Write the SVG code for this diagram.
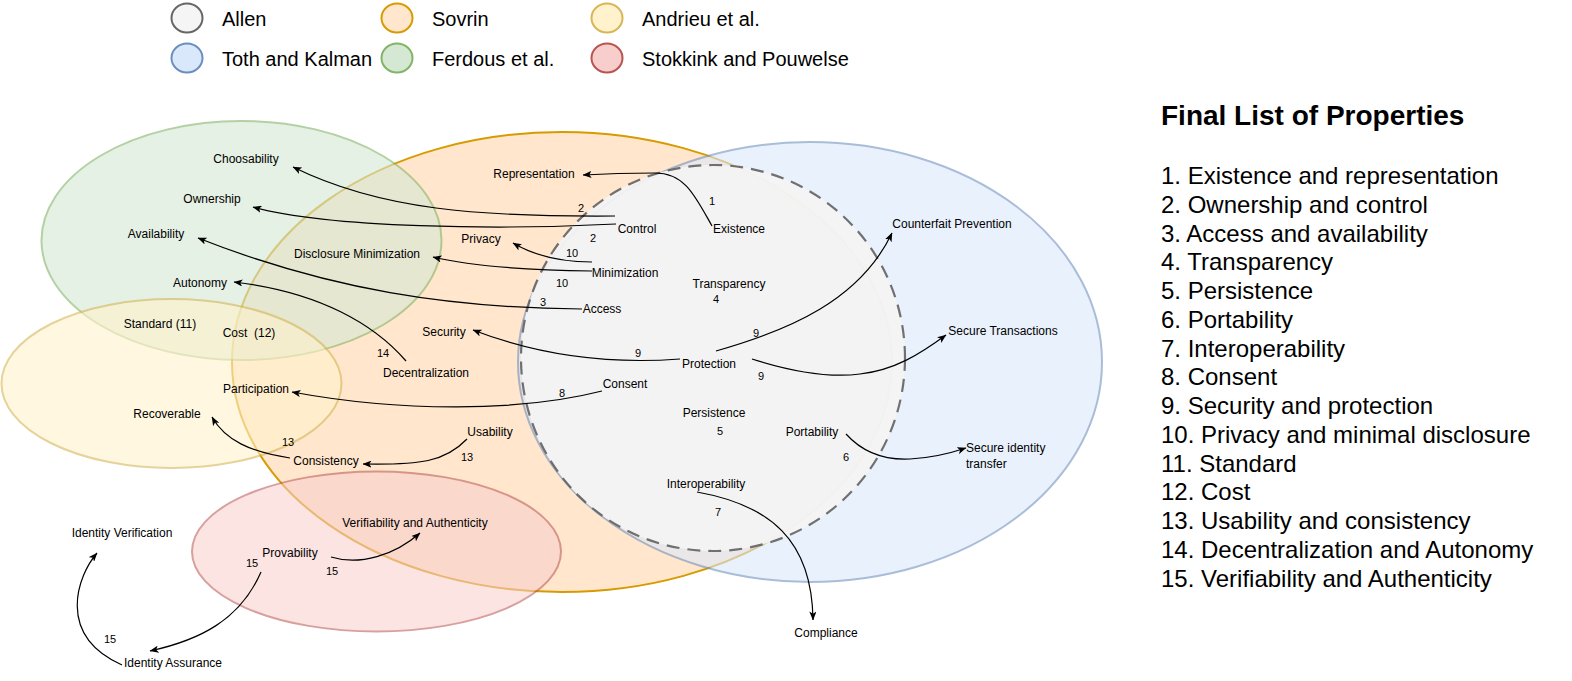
<svg xmlns="http://www.w3.org/2000/svg" width="1572" height="681" viewBox="0 0 1572 681">
<defs>
<marker id="arr" viewBox="0 0 10 8" markerWidth="9" markerHeight="7.2" refX="9.5" refY="4" orient="auto" markerUnits="userSpaceOnUse">
<path d="M0,0 L10,4 L0,8 L2.5,4 Z" fill="#000"/>
</marker>
<style>
text{font-family:"Liberation Sans",Arial,Helvetica,sans-serif;fill:#000}
.lg{font-size:20px}
.lb{font-size:12px;text-anchor:middle;white-space:pre}
.lbs{font-size:12px}
.num{font-size:11px;text-anchor:middle}
.ttl{font-size:28px;font-weight:bold}
.it{font-size:24px}
.e{fill:none;stroke:#000;stroke-width:1.2;marker-end:url(#arr)}
.allen{fill:#f5f5f5;stroke:#666666}
.toth{fill:#dae8fc;stroke:#6c8ebf}
.sov{fill:#ffe6cc;stroke:#d79b00}
.fer{fill:#d5e8d4;stroke:#82b366}
.and{fill:#fff2cc;stroke:#d6b656}
.sto{fill:#f8cecc;stroke:#b85450}
.set{stroke-width:2}
</style>
</defs>
<rect width="1572" height="681" fill="#fff"/>

<g id="legend">
<g id="legend-allen"><ellipse class="allen" cx="187" cy="18" rx="15.5" ry="14.5" stroke-width="2"/><text class="lg" x="222" y="25.5">Allen</text></g>
<g id="legend-toth"><ellipse class="toth" cx="187" cy="58" rx="15.5" ry="14.5" stroke-width="2"/><text class="lg" x="222" y="65.5">Toth and Kalman</text></g>
<g id="legend-sovrin"><ellipse class="sov" cx="397" cy="18" rx="15.5" ry="14.5" stroke-width="2"/><text class="lg" x="432" y="25.5">Sovrin</text></g>
<g id="legend-ferdous"><ellipse class="fer" cx="397" cy="58" rx="15.5" ry="14.5" stroke-width="2"/><text class="lg" x="432" y="65.5">Ferdous et al.</text></g>
<g id="legend-andrieu"><ellipse class="and" cx="607" cy="18" rx="15.5" ry="14.5" stroke-width="2"/><text class="lg" x="642" y="25.5">Andrieu et al.</text></g>
<g id="legend-stokkink"><ellipse class="sto" cx="607" cy="58" rx="15.5" ry="14.5" stroke-width="2"/><text class="lg" x="642" y="65.5">Stokkink and Pouwelse</text></g>
</g>

<g id="set-sovrin"><ellipse class="sov set" cx="562" cy="362" rx="330" ry="230"/></g>
<g id="set-toth" opacity="0.58"><ellipse class="toth set" cx="810" cy="362" rx="292" ry="220"/></g>
<g id="set-ferdous" opacity="0.6"><ellipse class="fer set" cx="241.5" cy="240.5" rx="200" ry="119.5"/></g>
<g id="set-andrieu" opacity="0.6"><ellipse class="and set" cx="171.5" cy="383.5" rx="170" ry="84.5"/></g>
<g id="set-stokkink" opacity="0.55"><ellipse class="sto set" cx="376.5" cy="551.5" rx="184.5" ry="80"/></g>
<g id="set-allen" opacity="0.92"><ellipse class="allen" cx="713" cy="358" rx="192" ry="193" stroke-width="2.2" stroke-dasharray="13 8"/></g>

<g id="connectors">
<g id="e-existence-representation"><path class="e" d="M712,226 C695,196 685,173 655,173 C630,173 600,174 583,175"/><text class="num" x="712" y="205">1</text></g>
<g id="e-control-choosability"><path class="e" d="M615,216 C480,217 380,210 293,167"/><text class="num" x="581" y="212">2</text></g>
<g id="e-control-ownership"><path class="e" d="M616,224 C500,230 330,228 253,207"/><text class="num" x="593" y="242">2</text></g>
<g id="e-minimization-privacy"><path class="e" d="M592,262 C560,262 535,256 513,243"/><text class="num" x="572" y="257">10</text></g>
<g id="e-minimization-disclosure"><path class="e" d="M592,271 C520,270 470,266 433,257"/><text class="num" x="562" y="287">10</text></g>
<g id="e-access-availability"><path class="e" d="M582,309 C450,308 330,290 198,238"/><text class="num" x="543" y="306">3</text></g>
<g id="e-decentralization-autonomy"><path class="e" d="M406,361 C375,325 320,292 234,282"/><text class="num" x="383" y="357">14</text></g>
<g id="e-protection-security"><path class="e" d="M680,359 C600,365 530,352 473,330"/><text class="num" x="638" y="357">9</text></g>
<g id="e-protection-counterfait"><path class="e" d="M716,351 C790,330 860,300 892,233"/><text class="num" x="756" y="337">9</text></g>
<g id="e-protection-transactions"><path class="e" d="M752,359 C790,371 830,378 860,374 C895,370 920,354 946,335"/><text class="num" x="761" y="380">9</text></g>
<g id="e-consent-participation"><path class="e" d="M602,391 C520,412 400,412 292,392"/><text class="num" x="562" y="397">8</text></g>
<g id="e-usability-consistency"><path class="e" d="M467,439 C445,462 420,465 363,464"/><text class="num" x="467" y="461">13</text></g>
<g id="e-consistency-recoverable"><path class="e" d="M290,458 C250,452 225,440 212,417"/><text class="num" x="288" y="446">13</text></g>
<g id="e-portability-transfer"><path class="e" d="M846,434 C865,455 890,460 910,459 C930,458 945,455 966,448"/><text class="num" x="846" y="461">6</text></g>
<g id="e-interoperability-compliance"><path class="e" d="M697,492 C770,505 812,540 813,620"/><text class="num" x="718" y="516">7</text></g>
<g id="e-provability-verifiability"><path class="e" d="M331,557 C360,566 395,555 420,533"/><text class="num" x="332" y="575">15</text></g>
<g id="e-provability-assurance"><path class="e" d="M261,572 C240,620 200,640 150,651"/><text class="num" x="252" y="567">15</text></g>
<g id="e-assurance-verification"><path class="e" d="M122,665 C55,635 78,575 97,553"/><text class="num" x="110" y="643">15</text></g>
</g>

<g id="n-choosability"><text class="lb" x="246" y="163">Choosability</text></g>
<g id="n-ownership"><text class="lb" x="212" y="203">Ownership</text></g>
<g id="n-availability"><text class="lb" x="156" y="238">Availability</text></g>
<g id="n-autonomy"><text class="lb" x="200" y="287">Autonomy</text></g>
<g id="n-standard"><text class="lb" x="160" y="328">Standard (11)</text></g>
<g id="n-cost"><text class="lb" x="249" y="337">Cost  (12)</text></g>
<g id="n-disclosure"><text class="lb" x="357" y="258">Disclosure Minimization</text></g>
<g id="n-representation"><text class="lb" x="534" y="178">Representation</text></g>
<g id="n-existence"><text class="lb" x="739" y="233">Existence</text></g>
<g id="n-control"><text class="lb" x="637" y="233">Control</text></g>
<g id="n-privacy"><text class="lb" x="481" y="243">Privacy</text></g>
<g id="n-minimization"><text class="lb" x="625" y="277">Minimization</text></g>
<g id="n-transparency"><text class="lb" x="729" y="288">Transparency</text><text class="num" x="716" y="303">4</text></g>
<g id="n-access"><text class="lb" x="602" y="313">Access</text></g>
<g id="n-security"><text class="lb" x="444" y="336">Security</text></g>
<g id="n-decentralization"><text class="lb" x="426" y="377">Decentralization</text></g>
<g id="n-protection"><text class="lb" x="709" y="368">Protection</text></g>
<g id="n-consent"><text class="lb" x="625" y="388">Consent</text></g>
<g id="n-participation"><text class="lb" x="256" y="393">Participation</text></g>
<g id="n-recoverable"><text class="lb" x="167" y="418">Recoverable</text></g>
<g id="n-persistence"><text class="lb" x="714" y="417">Persistence</text><text class="num" x="720" y="435">5</text></g>
<g id="n-portability"><text class="lb" x="812" y="436">Portability</text></g>
<g id="n-usability"><text class="lb" x="490" y="436">Usability</text></g>
<g id="n-consistency"><text class="lb" x="326" y="465">Consistency</text></g>
<g id="n-interoperability"><text class="lb" x="706" y="488">Interoperability</text></g>
<g id="n-counterfait"><text class="lb" x="952" y="228">Counterfait Prevention</text></g>
<g id="n-transactions"><text class="lb" x="1003" y="335">Secure Transactions</text></g>
<g id="n-transfer"><text class="lbs" x="966" y="452">Secure identity</text><text class="lbs" x="966" y="468">transfer</text></g>
<g id="n-verifiability"><text class="lb" x="415" y="527">Verifiability and Authenticity</text></g>
<g id="n-verification"><text class="lb" x="122" y="537">Identity Verification</text></g>
<g id="n-provability"><text class="lb" x="290" y="557">Provability</text></g>
<g id="n-assurance"><text class="lb" x="173" y="667">Identity Assurance</text></g>
<g id="n-compliance"><text class="lb" x="826" y="637">Compliance</text></g>

<g id="final-list">
<text class="ttl" x="1161" y="125">Final List of Properties</text>
<text class="it" x="1161" y="184">1. Existence and representation</text>
<text class="it" x="1161" y="213">2. Ownership and control</text>
<text class="it" x="1161" y="242">3. Access and availability</text>
<text class="it" x="1161" y="270">4. Transparency</text>
<text class="it" x="1161" y="299">5. Persistence</text>
<text class="it" x="1161" y="328">6. Portability</text>
<text class="it" x="1161" y="357">7. Interoperability</text>
<text class="it" x="1161" y="385">8. Consent</text>
<text class="it" x="1161" y="414">9. Security and protection</text>
<text class="it" x="1161" y="443">10. Privacy and minimal disclosure</text>
<text class="it" x="1161" y="472">11. Standard</text>
<text class="it" x="1161" y="500">12. Cost</text>
<text class="it" x="1161" y="529">13. Usability and consistency</text>
<text class="it" x="1161" y="558">14. Decentralization and Autonomy</text>
<text class="it" x="1161" y="587">15. Verifiability and Authenticity</text>
</g>
</svg>
